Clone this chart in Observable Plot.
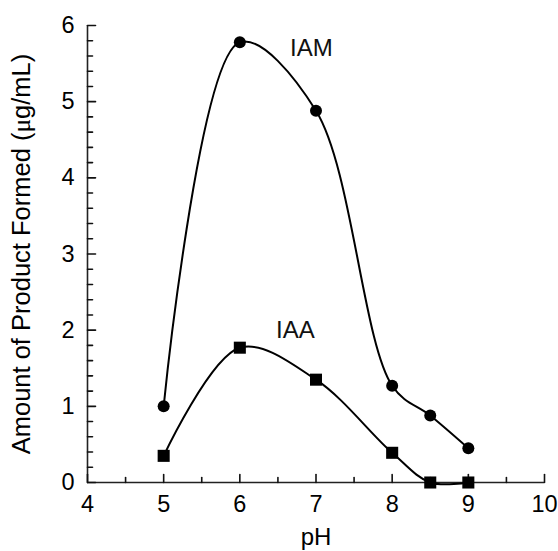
<!DOCTYPE html>
<html><head><meta charset="utf-8">
<script src="https://cdn.jsdelivr.net/npm/d3@7"></script>
<script src="https://cdn.jsdelivr.net/npm/@observablehq/plot@0.6"></script>
<style>body{margin:0;background:#fff}</style>
</head><body><div id="chart"></div>
<script>
const pH = [5, 6, 7, 8, 8.5, 9];
const iam = [1.0, 5.78, 4.88, 1.27, 0.88, 0.45];
const iaa = [0.35, 1.77, 1.35, 0.39, 0.0, 0.0];
const xMajor = [4, 5, 6, 7, 8, 9, 10];
const xMinor = [4.5, 5.5, 6.5, 7.5, 8.5, 9.5];
const yMajor = [0, 1, 2, 3, 4, 5, 6];
const yMinor = [0.2,0.4,0.6,0.8,1.2,1.4,1.6,1.8,2.2,2.4,2.6,2.8,3.2,3.4,3.6,3.8,4.2,4.4,4.6,4.8,5.2,5.4,5.6,5.8];
const seriesNames = ["IAM", "IAA"];

const rows = pH.map((p, i) => ({pH: p, IAM: iam[i], IAA: iaa[i]}));
// annotation anchors (data space)
const notes = [
  {name: seriesNames[0], x: 6.94, y: 5.70},
  {name: seriesNames[1], x: 6.73, y: 2.00}
];
const x0 = xMajor[0], y0 = yMajor[0];
const tickShape = {draw(context, l) { context.moveTo(0, 0); context.lineTo(0, -l); }};
const tickStyle = {stroke: "#111", strokeWidth: 1.6, fill: "none", anchor: "start", shape: tickShape};

const chart = Plot.plot({
  width: 558, height: 551,
  marginLeft: 87, marginRight: 14, marginTop: 25, marginBottom: 69,
  x: {domain: [4, 10]},
  y: {domain: [0, 6]},
  style: {fontFamily: "'Liberation Sans', Arial, sans-serif", fontSize: "24px", color: "#000", background: "#fff"},
  marks: [
    Plot.ruleY([y0], {stroke: "#222", strokeWidth: 1.6}),
    Plot.ruleX([x0], {stroke: "#222", strokeWidth: 1.6}),
    // inward ticks
    Plot.vector(xMajor, {x: d => d, y: y0, length: 8, rotate: 0, ...tickStyle}),
    Plot.vector(xMinor, {x: d => d, y: y0, length: 5, rotate: 0, ...tickStyle}),
    Plot.vector(yMajor, {x: x0, y: d => d, length: 8, rotate: 90, ...tickStyle}),
    Plot.vector(yMinor, {x: x0, y: d => d, length: 5, rotate: 90, ...tickStyle}),
    Plot.axisX({ticks: xMajor, tickSize: 0, tickPadding: 13, tickFormat: d => String(d), fontSize: 23.5, label: "pH", labelAnchor: "center", labelArrow: "none", labelOffset: 62}),
    Plot.axisY({ticks: yMajor, tickSize: 0, tickPadding: 13, tickFormat: d => String(d), fontSize: 23.5, label: "Amount of Product Formed (μg/mL)", labelAnchor: "center", labelArrow: "none", labelOffset: 76}),
    Plot.line(rows, {x: "pH", y: "IAM", curve: "catmull-rom", stroke: "#000", strokeWidth: 2}),
    Plot.line(rows, {x: "pH", y: "IAA", curve: "catmull-rom", stroke: "#000", strokeWidth: 2}),
    Plot.dot(rows, {x: "pH", y: "IAM", r: 6, fill: "#000"}),
    Plot.dot(rows, {x: "pH", y: "IAA", symbol: "square", r: 6.8, fill: "#000"}),
    Plot.text(notes, {x: "x", y: "y", text: "name", fontSize: 24, fill: "#111"})
  ]
});
// enlarge the y label slightly and render μ in a serif face, as in the source figure
for (const t of chart.querySelectorAll("text")) {
  const s = t.textContent;
  if (s.includes("μ")) {
    t.setAttribute("font-size", "25.5");
    const [a, b] = s.split("μ");
    t.textContent = "";
    const ns = "http://www.w3.org/2000/svg";
    const t1 = document.createElementNS(ns, "tspan"); t1.textContent = a;
    const t2 = document.createElementNS(ns, "tspan"); t2.textContent = "μ"; t2.setAttribute("font-family", "'Liberation Serif', 'DejaVu Serif', serif");
    const t3 = document.createElementNS(ns, "tspan"); t3.textContent = b;
    t.append(t1, t2, t3);
  } else if (s === "pH") {
    t.setAttribute("font-size", "24");
  }
}
document.getElementById("chart").append(chart);
</script>
</body></html>
